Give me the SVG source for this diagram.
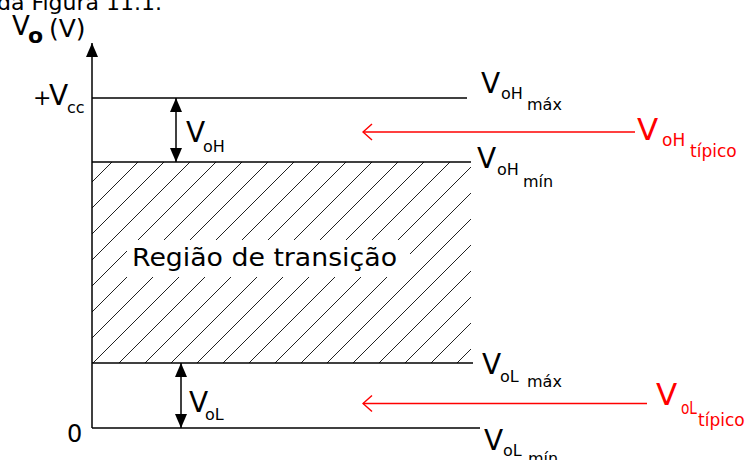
<svg xmlns="http://www.w3.org/2000/svg" width="748" height="460" viewBox="0 0 748 460">
<style>
text{font-family:"DejaVu Sans","Verdana",sans-serif;fill:#000}
.big{font-size:28px}
.sub{font-size:16px}
.red{fill:#ff0000}
.rsub{font-size:17px;fill:#ff0000}
.ln{stroke:#000;stroke-width:1.5;fill:none}
.rl{stroke:#ff0000;stroke-width:1.5;fill:none}
</style>
<defs>
<pattern id="hatch" patternUnits="userSpaceOnUse" x="14" y="0" width="26" height="26">
<path d="M-2,28 L28,-2" stroke="#222" stroke-width="1"/>
</pattern>
<marker id="tri" viewBox="0 0 14 12" refX="14" refY="6" markerWidth="14" markerHeight="12" markerUnits="userSpaceOnUse" orient="auto-start-reverse">
<path d="M0,0 L14,6 L0,12 z" fill="#000"/>
</marker>
<marker id="chev" viewBox="0 0 12 20" refX="11" refY="10" markerWidth="12" markerHeight="20" markerUnits="userSpaceOnUse" orient="auto">
<path d="M2,2 L11,10 L2,18" stroke="#ff0000" stroke-width="1.5" fill="none"/>
</marker>
</defs>

<text x="-3" y="10" style="font-size:22px">da Figura 11.1.</text>

<g id="transition-region">
<rect x="92" y="162" width="379" height="201" fill="url(#hatch)"/>
<rect x="127" y="240" width="283" height="37" fill="#fff"/>
<text x="132" y="266" style="font-size:24px" textLength="265" lengthAdjust="spacingAndGlyphs">Região de transição</text>
</g>

<g id="connectors">
<line class="ln" x1="92" y1="428" x2="92" y2="43" marker-end="url(#tri)"/>
<line class="ln" x1="92" y1="98" x2="467" y2="98"/>
<line class="ln" x1="92" y1="162" x2="471" y2="162"/>
<line class="ln" x1="92" y1="363" x2="473" y2="363"/>
<line class="ln" x1="92" y1="428" x2="480" y2="428"/>
<line class="ln" x1="176" y1="98" x2="176" y2="162" marker-start="url(#tri)" marker-end="url(#tri)"/>
<line class="ln" x1="181" y1="363" x2="181" y2="428" marker-start="url(#tri)" marker-end="url(#tri)"/>
<line class="rl" x1="635" y1="132" x2="363" y2="132" marker-end="url(#chev)"/>
<line class="rl" x1="647" y1="403.5" x2="363" y2="403.5" marker-end="url(#chev)"/>
</g>

<g id="axis-label">
<text x="12" y="35" style="font-size:26px">V</text>
<text x="28" y="43" style="font-size:22px;font-weight:bold">o</text>
<text x="49" y="37" style="font-size:25px">(V)</text>
</g>

<g id="vcc">
<text x="33" y="105" style="font-size:22px">+</text>
<text x="49" y="105" class="big">V</text>
<text x="67" y="113" class="sub">cc</text>
</g>

<g id="zero">
<text x="67" y="442" style="font-size:24px">0</text>
</g>

<g id="voh-range">
<text x="186" y="142" class="big">V</text>
<text x="203" y="152" class="sub">oH</text>
</g>

<g id="vol-range">
<text x="189" y="412" class="big">V</text>
<text x="205" y="420" class="sub">oL</text>
</g>

<g id="voh-max">
<text x="481" y="93" class="big">V</text>
<text x="501" y="99" class="sub">oH</text>
<text x="527" y="110" class="sub">máx</text>
</g>

<g id="voh-min">
<text x="477" y="168" class="big">V</text>
<text x="497" y="175" class="sub">oH</text>
<text x="523" y="187" class="sub">mín</text>
</g>

<g id="vol-max">
<text x="482" y="374" class="big">V</text>
<text x="500" y="382" class="sub">oL</text>
<text x="527" y="387" class="sub">máx</text>
</g>

<g id="vol-min">
<text x="484" y="450" class="big">V</text>
<text x="503" y="456" class="sub">oL</text>
<text x="528" y="464" class="sub">mín</text>
</g>

<g id="voh-typ">
<text x="637" y="140" class="red" style="font-size:31px">V</text>
<text x="662" y="146" class="rsub">oH</text>
<text x="690" y="157" class="rsub">típico</text>
</g>

<g id="vol-typ">
<text x="656" y="405" class="red" style="font-size:31px">V</text>
<text x="681" y="414" class="rsub" textLength="16" lengthAdjust="spacingAndGlyphs">oL</text>
<text x="698" y="426" class="rsub">típico</text>
</g>
</svg>
